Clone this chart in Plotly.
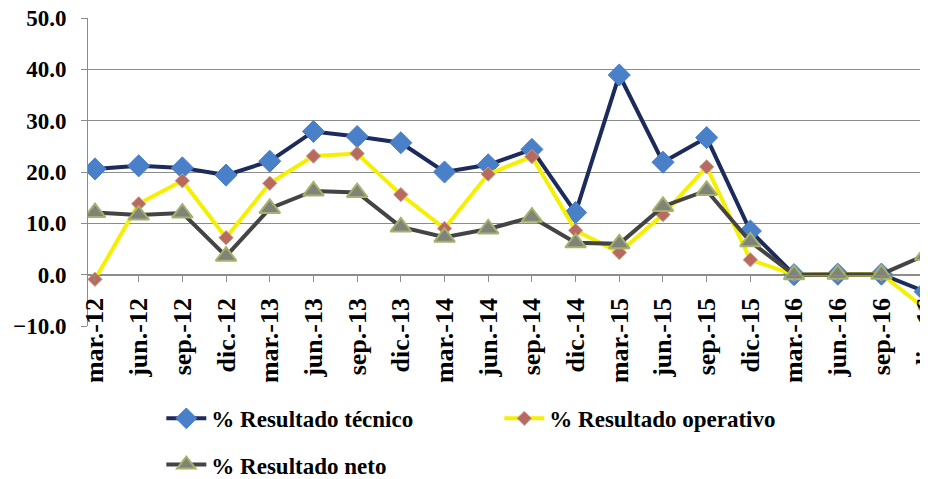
import plotly.graph_objects as go

# periodos trimestrales
periodos = ['mar.-12', 'jun.-12', 'sep.-12', 'dic.-12',
            'mar.-13', 'jun.-13', 'sep.-13', 'dic.-13',
            'mar.-14', 'jun.-14', 'sep.-14', 'dic.-14',
            'mar.-15', 'jun.-15', 'sep.-15', 'dic.-15',
            'mar.-16', 'jun.-16', 'sep.-16', 'dic.-16']

res_tecnico = [20.6, 21.2, 20.8, 19.4, 22.1, 27.9, 26.9, 25.7, 20.0, 21.4,
               24.4, 12.1, 38.9, 21.9, 26.7, 8.5, 0.0, 0.1, 0.1, -3.3]
res_operativo = [-0.9, 13.8, 18.3, 7.2, 17.8, 23.1, 23.6, 15.6, 9.0, 19.6,
                 23.0, 8.6, 4.3, 11.7, 21.0, 2.9, 0.0, 0.1, 0.1, -6.6]
res_neto = [12.1, 11.6, 12.0, 3.6, 12.9, 16.3, 16.0, 9.3, 7.3, 8.9,
            11.2, 6.2, 6.0, 13.3, 16.4, 6.4, 0.0, 0.1, 0.1, 3.8]

font_serif = "Liberation Serif"

fig = go.Figure()

fig.add_scatter(x=periodos, y=res_tecnico, mode="lines+markers",
                name="% Resultado técnico",
                line=dict(color="#1c2a5c", width=4),
                marker=dict(symbol="diamond", size=17, color="#4a80c8",
                            line=dict(color="#4a80c8", width=1)))

fig.add_scatter(x=periodos, y=res_operativo, mode="lines+markers",
                name="% Resultado operativo",
                line=dict(color="#f5f000", width=4),
                marker=dict(symbol="diamond", size=11, color="#b86a60",
                            line=dict(color="#c9a08a", width=1)))

fig.add_scatter(x=periodos, y=res_neto, mode="lines+markers",
                name="% Resultado neto", legend="legend2",
                line=dict(color="#444444", width=4),
                marker=dict(symbol="triangle-up", size=18, color="#80837a",
                            line=dict(color="#a4b26c", width=2)))

fig.update_xaxes(
    type="category",
    range=[-0.16, 19.02],
    anchor="free", position=(0 - -10) / 60,
    showline=True, linecolor="#8c8c8c", linewidth=1,
    ticks="outside", ticklen=6, tickcolor="#8c8c8c",
    tickangle=-90, automargin=False, ticklabelstandoff=6,
    ticklabeloverflow="allow",
    tickfont=dict(family=font_serif, size=26, color="black", weight="bold"),
    showgrid=False, zeroline=False,
)

fig.update_yaxes(
    range=[-10, 50], dtick=10, tickformat=".1f",
    showline=True, linecolor="#8c8c8c", linewidth=1,
    ticks="outside", ticklen=6, tickcolor="#8c8c8c",
    ticklabelstandoff=10, automargin=False,
    ticklabeloverflow="allow",
    showgrid=True, gridcolor="#8c8c8c", gridwidth=1,
    zeroline=False,
    tickfont=dict(family=font_serif, size=23, color="black", weight="bold"),
)

legend_font = dict(family=font_serif, size=23, color="black", weight="bold")

# la página tiene 8px de margen en el body: figura de 920x471
fig.update_layout(
    width=920, height=471,
    margin=dict(l=80, r=2, t=10, b=153, autoexpand=False),
    plot_bgcolor="white", paper_bgcolor="white",
    showlegend=True,
    legend=dict(orientation="h", x=0.0875, xanchor="left", y=-0.30, yanchor="middle",
                font=legend_font, entrywidth=283, itemwidth=40,
                bgcolor="rgba(0,0,0,0)"),
    legend2=dict(orientation="h", x=0.0875, xanchor="left", y=-0.45, yanchor="middle",
                 font=legend_font, itemwidth=40,
                 bgcolor="rgba(0,0,0,0)"),
)

fig.write_html("out.html")
